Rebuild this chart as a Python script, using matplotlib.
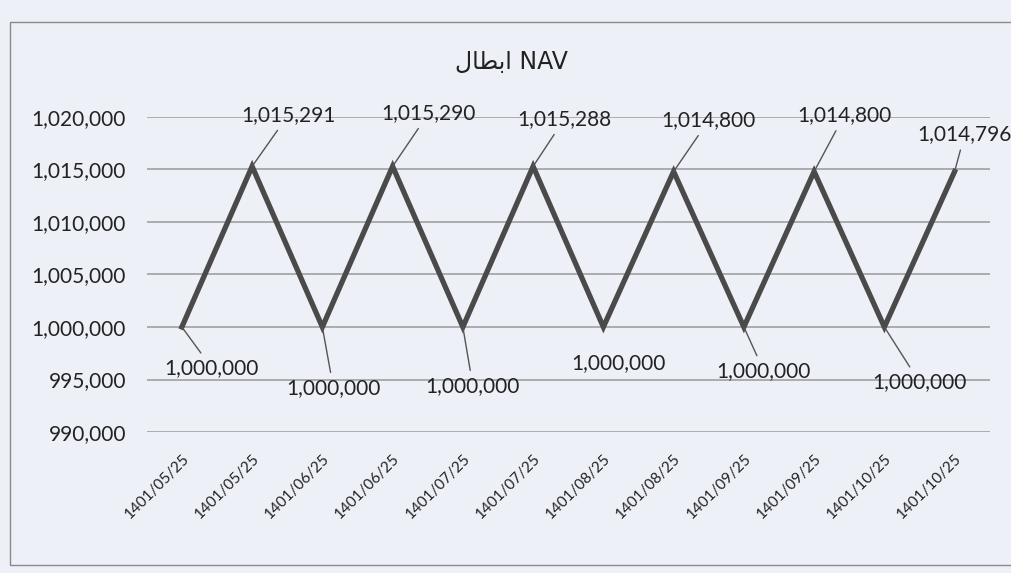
import matplotlib.pyplot as plt
from matplotlib.patches import Rectangle

dates = ['1401/05/25', '1401/05/25', '1401/06/25', '1401/06/25', '1401/07/25', '1401/07/25',
         '1401/08/25', '1401/08/25', '1401/09/25', '1401/09/25', '1401/10/25', '1401/10/25']
nav = [1000000, 1015291, 1000000, 1015290, 1000000, 1015288,
       1000000, 1014800, 1000000, 1014800, 1000000, 1014796]
yticks = [990000, 995000, 1000000, 1005000, 1010000, 1015000, 1020000]

# label offsets in pixels and whether a leader line is drawn
offsets = [(30, -41), (36, 51), (11, -61), (36, 53), (10, -59), (31, 47),
           (15, -36), (35, 51), (20, -44), (30, 56), (35, -55), (10, 37)]
leader = [True, True, True, True, True, True, False, True, True, True, True, True]

bg = '#eef0f8'
font = ['Lato', 'DejaVu Sans']
plt.rcParams['font.family'] = font

fig = plt.figure(figsize=(10.12, 5.73), dpi=100, facecolor=bg)
ax = fig.add_axes([0.145, 0.246, 0.833, 0.550], facecolor=bg)

x = list(range(len(nav)))
ax.plot(x, nav, color='#4a4a4a', lw=3.8, solid_joinstyle='miter')
ax.set_xlim(-0.5, len(nav) - 0.5)
ax.set_ylim(990000, 1020000)
ax.set_yticks(yticks)
ax.set_yticklabels([f'{v:,}' for v in yticks], fontsize=15, color='#222')
ax.set_xticks(x)
ax.set_xticklabels(dates, rotation=45, ha='right', rotation_mode='anchor', fontsize=11, color='#222')
ax.tick_params(axis='y', length=0, pad=15)
ax.tick_params(axis='x', length=0, pad=14)
ax.grid(axis='y', color='#999999', lw=1.1)
for s in ax.spines.values():
    s.set_visible(False)

for i, v in enumerate(nav):
    ap = dict(arrowstyle='-', color='#555', lw=1, shrinkA=2, shrinkB=0) if leader[i] else None
    ax.annotate(f'{v:,}', (i, v), xytext=offsets[i], textcoords='offset pixels',
                ha='center', va='center', fontsize=15, color='#222', arrowprops=ap)

# "ابطال" in presentation forms, visual order, followed by NAV
title = '\uFEDD\uFE8E\uFEC4\uFE91\uFE8D' + ' NAV'
fig.text(0.505, 0.892, title, ha='center', va='center', fontsize=17, color='#222',
         family=['DejaVu Sans'])

fig.patches.append(Rectangle((10 / 1012, 8 / 573), 1.0, (565 - 22) / 573, transform=fig.transFigure,
                             fill=False, edgecolor='#8a8a8a', lw=1))

fig.savefig('out.png', dpi=100, facecolor=bg)
